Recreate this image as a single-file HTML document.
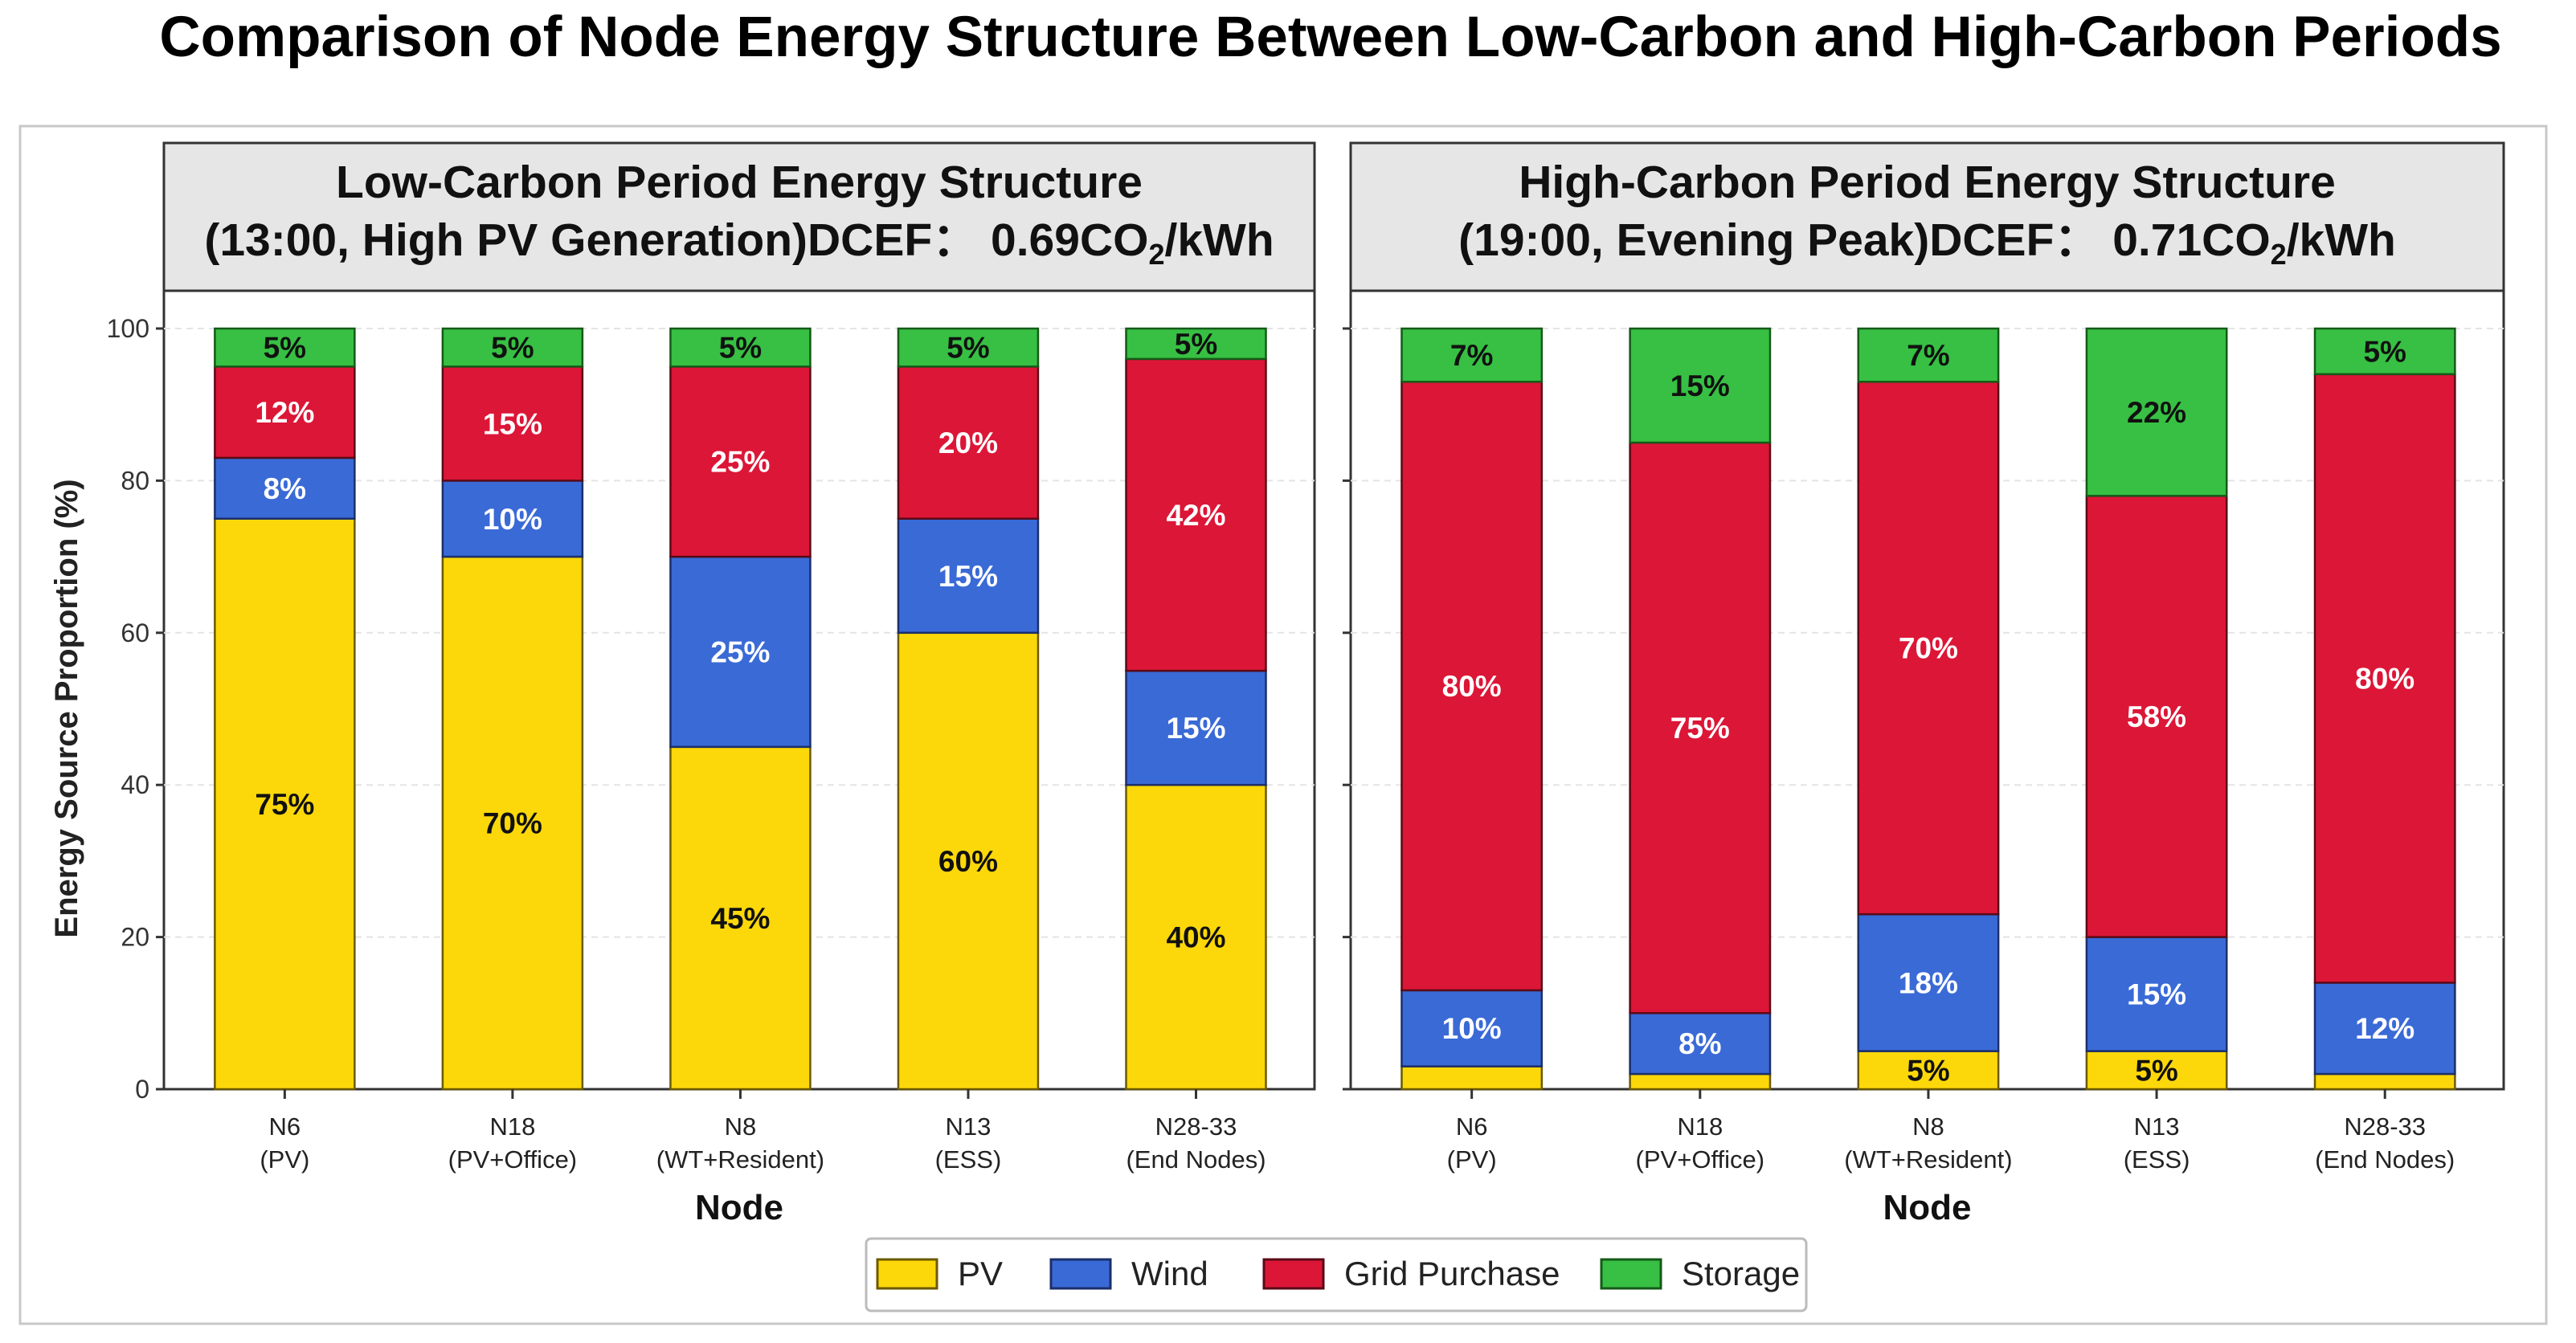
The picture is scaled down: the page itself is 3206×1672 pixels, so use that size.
<!DOCTYPE html>
<html><head><meta charset="utf-8"><style>
html,body{margin:0;padding:0;background:#fff;}
svg{display:block;font-family:"Liberation Sans",sans-serif;}
</style></head><body>
<svg id="chart" width="3206" height="1672" viewBox="0 0 3206 1672" xmlns="http://www.w3.org/2000/svg">
<text x="1656" y="70" text-anchor="middle" font-size="71" font-weight="bold" fill="#000">Comparison of Node Energy Structure Between Low-Carbon and High-Carbon Periods</text>
<rect x="25" y="157" width="3144" height="1491" fill="none" stroke="#c8c8c8" stroke-width="3"/>
<g id="panels"></g>
<text transform="translate(96,882) rotate(-90)" text-anchor="middle" font-size="40" font-weight="bold" fill="#222">Energy Source Proportion (%)</text>
<g>
<rect x="1078" y="1542" width="1170" height="90" rx="6" fill="#fff" stroke="#bbb" stroke-width="3"/>
<g id="legend-items"></g>
</g>
</svg>
<script>
const categories = ["N6","N18","N8","N13","N28-33"];
const subLabels = ["(PV)","(PV+Office)","(WT+Resident)","(ESS)","(End Nodes)"];
const yTicks = [0,20,40,60,80,100];
const seriesNames = ["PV","Wind","Grid Purchase","Storage"];
const lowPV = [75,70,45,60,40];
const lowWind = [8,10,25,15,15];
const lowGrid = [12,15,25,20,41];
const lowStorage = [5,5,5,5,4];
const lowPVLabels = ["75%","70%","45%","60%","40%"];
const lowWindLabels = ["8%","10%","25%","15%","15%"];
const lowGridLabels = ["12%","15%","25%","20%","42%"];
const lowStorageLabels = ["5%","5%","5%","5%","5%"];
const highPV = [3,2,5,5,2];
const highWind = [10,8,18,15,12];
const highGrid = [80,75,70,58,80];
const highStorage = [7,15,7,22,6];
const highPVLabels = ["","","5%","5%",""];
const highWindLabels = ["10%","8%","18%","15%","12%"];
const highGridLabels = ["80%","75%","70%","58%","80%"];
const highStorageLabels = ["7%","15%","7%","22%","5%"];

const NS="http://www.w3.org/2000/svg";
const colors=["#fcd80a","#3a6ad6","#dc1637","#37c043"];
const textColors=["#111","#fff","#fff","#111"];
const edge=["#6b5a00","#1b2f6a","#5a0a16","#145a18"];
function mk(tag,attrs,parent){const e=document.createElementNS(NS,tag);for(const k in attrs)e.setAttribute(k,attrs[k]);parent.appendChild(e);return e;}
const panelsG=document.getElementById('panels');
const panels=[
 {x0:204,x1:1636,t1:"Low-Carbon Period Energy Structure",t2a:"(13:00, High PV Generation)DCEF\uFF1A 0.69CO",t2b:"/kWh",data:[lowPV,lowWind,lowGrid,lowStorage],labs:[lowPVLabels,lowWindLabels,lowGridLabels,lowStorageLabels],showY:true,key:'low'},
 {x0:1681,x1:3116,t1:"High-Carbon Period Energy Structure",t2a:"(19:00, Evening Peak)DCEF\uFF1A 0.71CO",t2b:"/kWh",data:[highPV,highWind,highGrid,highStorage],labs:[highPVLabels,highWindLabels,highGridLabels,highStorageLabels],showY:false,key:'high'}
];
const yTop=362, yBottom=1356;
const y0=1356, y100=409;
function yScale(v){return y0-(v/100)*(y0-y100);}
panels.forEach(p=>{
 const g=mk('g',{},panelsG);
 
 
 const w=p.x1-p.x0;
 function xScale(i){return p.x0+w*(0.105+i*0.198);}
 const bw=w*0.1215;
 const hb=mk('rect',{x:p.x0,y:178,width:w,height:yTop-178,fill:"#e6e6e6",stroke:"#333","stroke-width":3},g);
 
 const cx=p.x0+w/2;
 const t1=mk('text',{x:cx,y:246,"text-anchor":"middle","font-size":57,"font-weight":"bold",fill:"#111"},g);t1.textContent=p.t1;
 
 const t2=mk('text',{x:cx,y:318,"text-anchor":"middle","font-size":57,"font-weight":"bold",fill:"#111"},g);
 
 t2.appendChild(document.createTextNode(p.t2a));
 const sub=mk('tspan',{"font-size":36,dy:11},t2);sub.textContent="2";
 const rest=mk('tspan',{dy:-11},t2);rest.textContent=p.t2b;
 const pa=mk('rect',{x:p.x0,y:yTop,width:w,height:yBottom-yTop,fill:"#fff",stroke:"#333","stroke-width":3},g);
 
 yTicks.forEach(t=>{
  const yy=yScale(t);
  if(t>0){const gl=mk('line',{x1:p.x0,x2:p.x1,y1:yy,y2:yy,stroke:"#e4e4e4","stroke-width":2,"stroke-dasharray":"8,6"},g);
  }
  const tk=mk('line',{x1:p.x0-10,x2:p.x0,y1:yy,y2:yy,stroke:"#333","stroke-width":3},g);
  
  if(p.showY){const tl=mk('text',{x:p.x0-18,y:yy+11,"text-anchor":"end","font-size":32,fill:"#333"},g);tl.textContent=t;
   }
 });
 categories.forEach((c,i)=>{
  const xc=xScale(i);
  let cum=0;
  p.data.forEach((arr,s)=>{
   const v=arr[i];
   const ya=yScale(cum), yb=yScale(cum+v);
   const r=mk('rect',{x:xc-bw/2,y:yb,width:bw,height:ya-yb,fill:colors[s],stroke:edge[s],"stroke-width":2.5},g);
   
   
   const lab=p.labs[s][i];
   if(lab){
    const ly=(ya+yb)/2+13;
    const tx=mk('text',{x:xc,y:ly,"text-anchor":"middle","font-size":37,"font-weight":"bold",fill:textColors[s]},g);
    tx.textContent=lab;
    
   }
   cum+=v;
  });
  const xt=mk('line',{x1:xc,x2:xc,y1:yBottom,y2:yBottom+12,stroke:"#333","stroke-width":3},g);
  
  const l1=mk('text',{x:xc,y:1413,"text-anchor":"middle","font-size":31,fill:"#222"},g);l1.textContent=c;
  
  const l2=mk('text',{x:xc,y:1454,"text-anchor":"middle","font-size":31,fill:"#222"},g);l2.textContent=subLabels[i];
  
 });
 const xa=mk('text',{x:cx,y:1518,"text-anchor":"middle","font-size":44,"font-weight":"bold",fill:"#111"},g);xa.textContent="Node";
 
});
const lg=document.getElementById('legend-items');
const lx=[1092,1308,1573,1993];
seriesNames.forEach((n,s)=>{
 const r=mk('rect',{x:lx[s],y:1568,width:74,height:36,fill:colors[s],stroke:edge[s],"stroke-width":3},lg);
 
 const t=mk('text',{x:lx[s]+100,y:1600,"font-size":42,fill:"#222"},lg);t.textContent=n;
 
});
</script>
</body></html>
